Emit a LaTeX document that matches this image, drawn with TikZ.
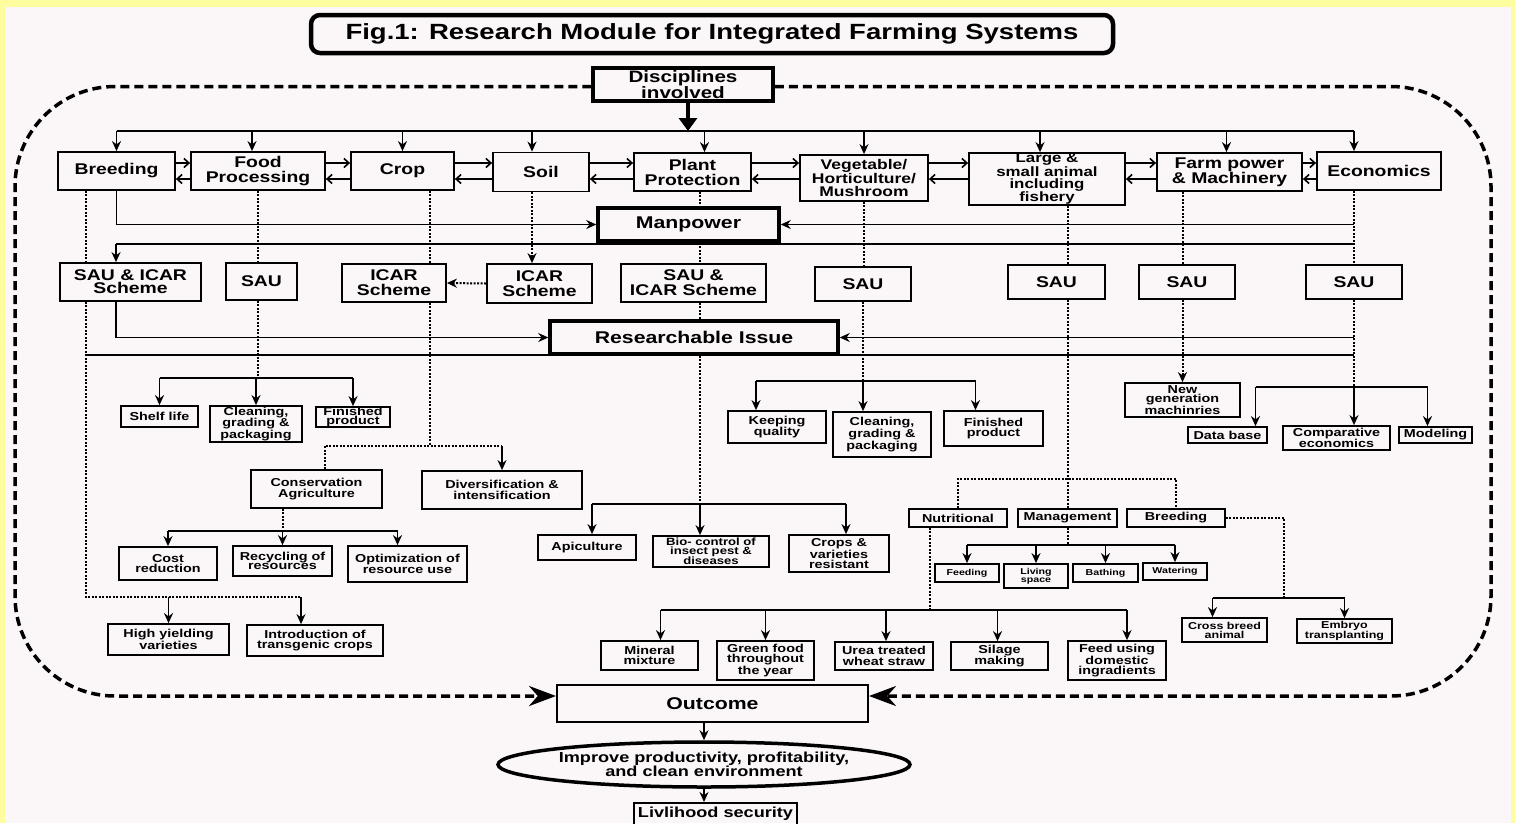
\documentclass[tikz,border=0pt]{standalone}
\usepackage{fontspec}
\setmainfont{Liberation Sans}[FakeStretch=1.25]
\usetikzlibrary{arrows.meta,shapes.geometric}
\definecolor{paper}{RGB}{251,246,248}
\definecolor{framey}{RGB}{253,253,160}

\begin{document}
\begin{tikzpicture}[x=1pt,y=-1pt,
        box/.style={draw, line width=1.8pt, inner sep=0pt, align=center},
        heavy/.style={box, line width=3.5pt},
        txtbig/.style={font=\fontsize{15.5}{15}\selectfont\bfseries},
        txtsmall/.style={font=\fontsize{11.5}{10.5}\selectfont\bfseries},
        txttiny/.style={font=\fontsize{8.5}{8}\selectfont\bfseries},
        link/.style={line width=1.6pt},
        arr/.style={link, -{Stealth[length=10pt,width=9pt]}},
        dotline/.style={line width=2pt, dash pattern=on 2pt off 1.5pt},
        dotarr/.style={dotline, -{Stealth[length=10pt,width=9pt]}},
        barb/.style={link, -{Straight Barb[length=5pt,width=9pt]}},
        frameline/.style={line width=3.5pt, dash pattern=on 9pt off 5pt, rounded corners=100pt, -{Stealth[length=27pt,width=20pt]}}]
                \useasboundingbox (0,0) rectangle (1515,823);
                \fill[framey] (0,0) rectangle (1515,823);
                \fill[paper] (5,7) rectangle (1511,823);

                \node[box, line width=4.5pt, rounded corners=9pt, minimum width=802pt, minimum height=38pt, font=\fontsize{22}{22}\selectfont\bfseries] (title) at (712,34) {Fig.1: Research Module for Integrated Farming Systems};
                \node[heavy, minimum width=180pt, minimum height=33pt, font=\fontsize{16.5}{15.5}\selectfont\bfseries] (disc) at (683,84.5) {Disciplines\\involved};

                \node[box, txtbig, minimum width=117pt, minimum height=38pt] (breed) at (116.5,171) {Breeding};
                \node[box, txtbig, minimum width=134pt, minimum height=38pt] (food) at (258,171) {Food\\Processing};
                \node[box, txtbig, minimum width=103pt, minimum height=38pt] (crop) at (402.5,171) {Crop};
                \node[box, txtbig, minimum width=96pt, minimum height=39pt] (soil) at (541,172) {Soil};
                \node[box, txtbig, minimum width=117pt, minimum height=38pt] (plant) at (692.5,172) {Plant\\Protection};
                \node[box, minimum width=128pt, minimum height=46pt, font=\fontsize{14}{12.8}\selectfont\bfseries] (veg) at (864,178) {Vegetable/\\Horticulture/\\Mushroom};
                \node[box, minimum width=156pt, minimum height=52pt, font=\fontsize{13.5}{12}\selectfont\bfseries] (large) at (1047,179) {Large \&\\small animal\\including\\fishery};
                \node[box, txtbig, minimum width=145pt, minimum height=38pt] (farm) at (1229.5,172) {Farm power\\\& Machinery};
                \node[box, txtbig, minimum width=124pt, minimum height=38pt] (econ) at (1379,171) {Economics};

                \node[heavy, minimum width=181pt, minimum height=33pt, font=\fontsize{17}{17}\selectfont\bfseries] (manp) at (688.5,224.5) {Manpower};

                \node[box, minimum width=141pt, minimum height=38pt, font=\fontsize{15.5}{13}\selectfont\bfseries] (sauicar) at (130.5,282) {SAU \& ICAR\\Scheme};
                \node[box, txtbig, minimum width=71pt, minimum height=37pt] (sau1) at (261.5,281.5) {SAU};
                \node[box, txtbig, minimum width=104pt, minimum height=38pt] (icar1) at (394,283) {ICAR\\Scheme};
                \node[box, txtbig, minimum width=105pt, minimum height=39pt] (icar2) at (539.5,283.5) {ICAR\\Scheme};
                \node[box, txtbig, minimum width=145pt, minimum height=38pt] (sauicar2) at (693.5,283) {SAU \&\\ICAR Scheme};
                \node[box, txtbig, minimum width=96pt, minimum height=34pt] (sau2) at (863,284) {SAU};
                \node[box, txtbig, minimum width=97pt, minimum height=34pt] (sau3) at (1056.5,282) {SAU};
                \node[box, txtbig, minimum width=96pt, minimum height=34pt] (sau4) at (1187,282) {SAU};
                \node[box, txtbig, minimum width=96pt, minimum height=34pt] (esau) at (1354,282) {SAU};

                \node[heavy, minimum width=288pt, minimum height=33pt, font=\fontsize{17}{17}\selectfont\bfseries] (resis) at (694,337.5) {Researchable Issue};

                \node[box, txtsmall, minimum width=77pt, minimum height=21pt] (shelf) at (159.5,416.5) {Shelf life};
                \node[box, txtsmall, minimum width=92pt, minimum height=36pt, font=\fontsize{11.5}{10}\selectfont\bfseries] (clean1) at (256,424) {Cleaning,\\grading \&\\packaging};
                \node[box, minimum width=74pt, minimum height=20pt, font=\fontsize{11.5}{9}\selectfont\bfseries] (fin1) at (353,417) {Finished\\product};
                \node[box, txtsmall, minimum width=131pt, minimum height=38pt] (consag) at (316.5,489) {Conservation\\Agriculture};
                \node[box, txtsmall, minimum width=160pt, minimum height=38pt] (divers) at (502,490) {Diversification \&\\intensification};
                \node[box, txtsmall, minimum width=98pt, minimum height=33pt] (cost) at (168,563.5) {Cost\\reduction};
                \node[box, minimum width=99pt, minimum height=30pt, font=\fontsize{11.5}{9.5}\selectfont\bfseries] (recyc) at (282.5,561) {Recycling of\\resources};
                \node[box, txtsmall, minimum width=119pt, minimum height=36pt] (optim) at (407.5,564) {Optimization of\\resource use};
                \node[box, txtsmall, minimum width=121pt, minimum height=31pt] (himv) at (168.5,639.5) {High yielding\\varieties};
                \node[box, txtsmall, minimum width=136pt, minimum height=31pt] (trans) at (315,640.5) {Introduction of\\transgenic crops};

                \node[box, txtsmall, minimum width=98pt, minimum height=32pt] (keep) at (777,427) {Keeping\\quality};
                \node[box, txtsmall, minimum width=98pt, minimum height=45pt] (clean2) at (882,434.5) {Cleaning,\\grading \&\\packaging};
                \node[box, txtsmall, minimum width=99pt, minimum height=35pt] (fin2) at (993.5,428.5) {Finished\\product};
                \node[box, txtsmall, minimum width=98pt, minimum height=25pt] (apic) at (587,547.5) {Apiculture};
                \node[box, minimum width=116pt, minimum height=31pt, font=\fontsize{10.5}{8.5}\selectfont\bfseries] (bio) at (711,551.5) {Bio- control of\\insect pest \&\\diseases};
                \node[box, txtsmall, minimum width=100pt, minimum height=37pt] (crres) at (839,553.5) {Crops \&\\varieties\\resistant};

                \node[box, minimum width=115pt, minimum height=34pt, font=\fontsize{11.5}{9.5}\selectfont\bfseries] (newgen) at (1182.5,400) {New\\generation\\machinries};
                \node[box, txtsmall, minimum width=79pt, minimum height=16pt] (datab) at (1227.5,435) {Data base};
                \node[box, minimum width=107pt, minimum height=24pt, font=\fontsize{11.5}{9}\selectfont\bfseries] (compe) at (1336.5,438) {Comparative\\economics};
                \node[box, txtsmall, minimum width=73pt, minimum height=16pt] (model) at (1435.5,435) {Modeling};

                \node[box, txtsmall, minimum width=98pt, minimum height=18pt] (nutr) at (958,518) {Nutritional};
                \node[box, txtsmall, minimum width=99pt, minimum height=18pt] (mgmt) at (1067.5,518) {Management};
                \node[box, txtsmall, minimum width=98pt, minimum height=18pt] (breed2) at (1176,518) {Breeding};
                \node[box, txttiny, minimum width=64pt, minimum height=18pt] (feed) at (967,573) {Feeding};
                \node[box, txttiny, minimum width=64pt, minimum height=24pt] (living) at (1036,576) {Living\\space};
                \node[box, txttiny, minimum width=65pt, minimum height=18pt] (bath) at (1105.5,573) {Bathing};
                \node[box, txttiny, minimum width=64pt, minimum height=17pt] (water) at (1175,571.5) {Watering};
                \node[box, minimum width=85pt, minimum height=24pt, font=\fontsize{10}{9}\selectfont\bfseries] (cross) at (1224.5,630) {Cross breed\\animal};
                \node[box, minimum width=95pt, minimum height=24pt, font=\fontsize{10}{9}\selectfont\bfseries] (embryo) at (1344.5,631) {Embryo\\transplanting};

                \node[box, txtsmall, minimum width=97pt, minimum height=29pt] (mineral) at (649.5,655.5) {Mineral\\mixture};
                \node[box, txtsmall, minimum width=97pt, minimum height=39pt] (green) at (765.5,660.5) {Green food\\throughout\\the year};
                \node[box, txtsmall, minimum width=98pt, minimum height=28pt] (urea) at (884,656) {Urea treated\\wheat straw};
                \node[box, txtsmall, minimum width=97pt, minimum height=28pt] (silage) at (999.5,656) {Silage\\making};
                \node[box, txtsmall, minimum width=98pt, minimum height=39pt] (feedu) at (1117,660.5) {Feed using\\domestic\\ingradients};

                \node[box, line width=2pt, minimum width=311pt, minimum height=37pt, font=\fontsize{17}{17}\selectfont\bfseries] (outc) at (712.5,703.5) {Outcome};
                \node[box, ellipse, line width=3.5pt, minimum width=412pt, minimum height=45pt, font=\fontsize{14.5}{14}\selectfont\bfseries] (ell) at (704,764.5) {Improve productivity, profitability,\\and clean environment};
                \node[box, line width=2pt, minimum width=163pt, minimum height=22pt, font=\fontsize{14.5}{14}\selectfont\bfseries] (livl) at (715.5,814) {Livlihood security};

                \coordinate (tl) at (688,131);
                \coordinate (up) at (0,163);
                \coordinate (lo) at (0,179);
                \coordinate (m2) at (116,244);
                \coordinate (m3) at (86,355);
                \coordinate (lk) at (86,597);
                \coordinate (h1) at (0,378);
                \coordinate (h2) at (0,381);
                \coordinate (h3) at (0,479);
                \coordinate (h4) at (0,545);
                \coordinate (h5) at (0,610);
                \coordinate (h6) at (0,387);
                \coordinate (h7) at (0,531);
                \coordinate (j1) at (430,446);
                \coordinate (j2) at (700,504);
                \coordinate (j3) at (1284,598);
                \coordinate (lpl) at (15,696);
                \coordinate (rpl) at (1491,696);

                \draw[frameline] ([yshift=-2pt]disc.west) -| (lpl) -- ([yshift=7.5pt]outc.west);
                \draw[frameline] ([yshift=-2pt]disc.east) -| (rpl) -- ([yshift=7.5pt]outc.east);

                \draw[line width=4.5pt, -{Triangle[length=13pt,width=18pt]}] (disc.south -| tl) -- (tl);
                \draw[link] (breed.north |- tl) -- (esau.north |- tl);
                \foreach \n/\dx in {breed/0,food/-6,crop/0,soil/-9,plant/12,veg/0,large/-7,farm/-3}
                    \draw[arr] ([xshift=\dx pt]\n.north |- tl) -- ([xshift=\dx pt]\n.north);
                \draw[arr] (esau.north |- tl) -- (esau.north |- econ.north);
                \foreach \a/\b in {breed/food,food/crop,crop/soil,soil/plant,plant/veg,veg/large,large/farm,farm/econ} {
                    \draw[barb] (\a.east |- up) -- (\b.west |- up);
                    \draw[barb] (\b.west |- lo) -- (\a.east |- lo);
                }

                \draw[arr] (breed.south) |- (manp.west);
                \draw[arr] (manp.east -| esau) -- (manp.east);
                \draw[link] (m2) -- (m2 -| esau);
                \draw[arr] (m2) -- (m2 |- sauicar.north);
                \draw[arr] (sauicar.south -| m2) |- (resis.west);
                \draw[arr] (resis.east -| esau) -- (resis.east);
                \draw[link] (m3) -- (m3 -| esau);

                \draw[dotline] (breed.south -| lk) -- (sauicar.north -| lk);
                \draw[dotline] (sauicar.south -| lk) -- (lk) -- ([xshift=-14pt]trans.north |- lk);
                \draw[arr] (himv.north |- lk) -- (himv.north);
                \draw[arr] ([xshift=-14pt]trans.north |- lk) -- ([xshift=-14pt]trans.north);

                \draw[dotline] (food.south) -- (food.south |- sau1.north);
                \draw[dotline] (food.south |- sau1.south) -- (food.south |- h1);
                \draw[link] (shelf.north |- h1) -- (fin1.north |- h1);
                \foreach \n in {shelf,clean1,fin1}
                    \draw[arr] (\n.north |- h1) -- (\n.north);

                \draw[dotline] (crop.south -| j1) -- (icar1.north -| j1);
                \draw[dotline] (icar1.south -| j1) -- (j1);
                \draw[dotline] ([xshift=8pt]consag.north) |- (j1) -- (j1 -| divers.north);
                \draw[arr] (j1 -| divers.north) -- (divers.north);
                \draw[dotarr] ([xshift=-9pt]soil.south) -- ([xshift=-9pt]soil.south |- icar2.north);
                \draw[dotarr] (icar2.west) -- (icar1.east);

                \draw[dotline] (consag.south -| recyc.north) -- (recyc.north |- h7);
                \draw[link] (cost.north |- h7) -- ([xshift=-10pt]optim.north |- h7);
                \draw[arr] (cost.north |- h7) -- (cost.north);
                \draw[arr] (recyc.north |- h7) -- (recyc.north);
                \draw[arr] ([xshift=-10pt]optim.north |- h7) -- ([xshift=-10pt]optim.north);

                \draw[dotline] (plant.south -| j2) -- (manp.north -| j2);
                \draw[dotline] (manp.south -| j2) -- (sauicar2.north -| j2);
                \draw[dotline] (sauicar2.south -| j2) -- (resis.north -| j2);
                \draw[dotline] (resis.south -| j2) -- (j2);
                \draw[link] ([xshift=5pt]apic.north |- j2) -- ([xshift=7pt]crres.north |- j2);
                \draw[arr] (j2) -- (j2 |- bio.north);
                \draw[arr] ([xshift=5pt]apic.north |- j2) -- ([xshift=5pt]apic.north);
                \draw[arr] ([xshift=7pt]crres.north |- j2) -- ([xshift=7pt]crres.north);

                \draw[dotline] (veg.south) -- (veg.south |- sau2.north);
                \draw[dotline] (sau2.south) -- (sau2.south |- h2);
                \draw[link] ([xshift=-21pt]keep.north |- h2) -- ([xshift=-18pt]fin2.north |- h2);
                \draw[arr] ([xshift=-21pt]keep.north |- h2) -- ([xshift=-21pt]keep.north);
                \draw[arr] (sau2.south |- h2) -- (sau2.south |- clean2.north);
                \draw[arr] ([xshift=-18pt]fin2.north |- h2) -- ([xshift=-18pt]fin2.north);

                \draw[dotline] (large.south -| mgmt) -- (sau3.north -| mgmt);
                \draw[dotline] (sau3.south -| mgmt) -- (mgmt.north);
                \draw[dotline] (nutr.north) |- (h3 -| breed2.north) -- (breed2.north);
                \draw[dotline] (mgmt.south) -- (mgmt.south |- h4);
                \draw[link] (feed.north |- h4) -- (water.north |- h4);
                \foreach \n in {feed,living,bath,water}
                    \draw[arr] (\n.north |- h4) -- (\n.north);
                \draw[dotline] (breed2.east) -| (j3);
                \draw[link] ([xshift=-12pt]cross.north |- j3) -- (embryo.north |- j3);
                \draw[arr] ([xshift=-12pt]cross.north |- j3) -- ([xshift=-12pt]cross.north);
                \draw[arr] (embryo.north |- j3) -- (embryo.north);

                \draw[dotline] ([xshift=-28pt]nutr.south) -- ([xshift=-28pt]nutr.south |- h5);
                \draw[link] ([xshift=11pt]mineral.north |- h5) -- ([xshift=10pt]feedu.north |- h5);
                \foreach \n/\dx in {mineral/11,green/0,urea/2,silage/-2,feedu/10}
                    \draw[arr] ([xshift=\dx pt]\n.north |- h5) -- ([xshift=\dx pt]\n.north);

                \draw[dotline] (farm.south -| newgen) -- (sau4.north -| newgen);
                \draw[dotarr] (sau4.south -| newgen) -- (newgen.north);

                \draw[dotline] (econ.south -| esau) -- (esau.north);
                \draw[dotline] (esau.south) -- (esau.south |- h6);
                \draw[link] ([xshift=28pt]datab.north |- h6) -- ([xshift=-8pt]model.north |- h6);
                \draw[arr] ([xshift=28pt]datab.north |- h6) -- ([xshift=28pt]datab.north);
                \draw[arr] (esau.south |- h6) -- (esau.south |- compe.north);
                \draw[arr] ([xshift=-8pt]model.north |- h6) -- ([xshift=-8pt]model.north);

                \draw[arr] (ell.north |- outc.south) -- (ell.north);
                \draw[arr] (ell.south) -- (ell.south |- livl.north);
            \end{tikzpicture}
\end{document}
